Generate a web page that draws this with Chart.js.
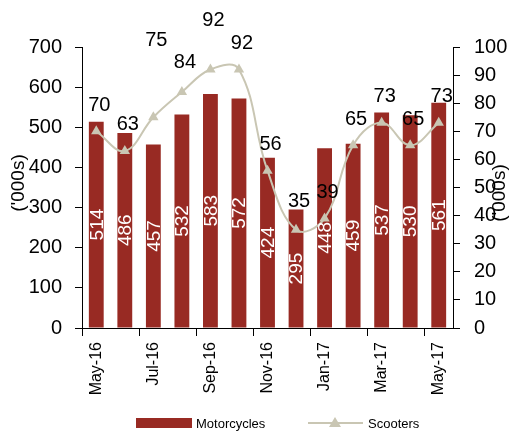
<!DOCTYPE html>
<html>
<head>
<meta charset="utf-8">
<script src="https://cdn.jsdelivr.net/npm/chart.js@4/dist/chart.umd.min.js"></script>
<style>
  body { margin: 0; background: #fff; }
  #wrap { width: 513px; height: 432px; }
</style>
</head>
<body>
<div id="wrap"><canvas id="chart" width="513" height="432"></canvas></div>
<script>
// monthly volumes, '000s
const months = ["May-16","Jun-16","Jul-16","Aug-16","Sep-16","Oct-16","Nov-16","Dec-16","Jan-17","Feb-17","Mar-17","Apr-17","May-17"];
const motorcycles = [514, 486, 457, 532, 583, 572, 424, 295, 448, 459, 537, 530, 561];
const scooters = [70, 63, 75, 84, 92, 92, 56, 35, 39, 65, 73, 65, 73];
const leftTicks = [0, 100, 200, 300, 400, 500, 600, 700];
const rightTicks = [0, 10, 20, 30, 40, 50, 60, 70, 80, 90, 100];

const FONT = '"Liberation Sans Narrow", "Arial Narrow", "Liberation Sans", sans-serif';
const RED = "#982a23";
const BEIGE = "#c9c6b3";

// extra lift for a couple of scooter labels so they clear the curve (as in the source)
const scooterLift = [26, 26, 77, 29, 49, 26, 26, 28, 26, 26, 26, 26, 26];

const labelsPlugin = {
  id: "valueLabels",
  afterDatasetsDraw(chart) {
    const ctx = chart.ctx;
    ctx.save();
    // motorcycle values inside bars, rotated
    const bars = chart.getDatasetMeta(0).data;
    ctx.fillStyle = "#fff";
    ctx.font = "19px " + FONT;
    ctx.textAlign = "center";
    ctx.textBaseline = "middle";
    bars.forEach((b, i) => {
      ctx.save();
      ctx.translate(b.x, (b.y + b.base) / 2);
      ctx.rotate(-Math.PI / 2);
      ctx.fillText(String(motorcycles[i]), 0, 1);
      ctx.restore();
    });
    // scooter values above points
    const pts = chart.getDatasetMeta(1).data;
    ctx.fillStyle = "#000";
    ctx.font = "20px " + FONT;
    pts.forEach((p, i) => {
      ctx.fillText(String(scooters[i]), p.x + 3, p.y - scooterLift[i]);
    });
    ctx.restore();
  },
  afterDraw(chart) {
    const ctx = chart.ctx;
    ctx.save();
    // axis titles, both read bottom to top
    ctx.fillStyle = "#000";
    ctx.font = "19px " + FONT;
    ctx.textAlign = "center";
    ctx.textBaseline = "middle";
    [[19, 183], [500, 193]].forEach(([x, y]) => {
      ctx.save();
      ctx.translate(x, y);
      ctx.rotate(-Math.PI / 2);
      ctx.fillText("('000s)", 0, 0);
      ctx.restore();
    });
    // legend
    ctx.fillStyle = RED;
    ctx.fillRect(136, 418, 56, 10);
    ctx.fillStyle = "#000";
    ctx.font = "13px " + FONT;
    ctx.textAlign = "left";
    ctx.fillText("Motorcycles", 196, 424);
    ctx.strokeStyle = BEIGE;
    ctx.lineWidth = 2;
    ctx.beginPath();
    ctx.moveTo(308, 423);
    ctx.lineTo(363, 423);
    ctx.stroke();
    ctx.fillStyle = BEIGE;
    ctx.beginPath();
    ctx.moveTo(335, 417);
    ctx.lineTo(341, 427);
    ctx.lineTo(329, 427);
    ctx.closePath();
    ctx.fill();
    ctx.fillStyle = "#000";
    ctx.fillText("Scooters", 368, 424);
    ctx.restore();
  }
};

new Chart(document.getElementById("chart"), {
  type: "bar",
  data: {
    labels: months,
    datasets: [{
      label: "Motorcycles",
      data: motorcycles,
      backgroundColor: RED,
      categoryPercentage: 1,
      barPercentage: 0.52,
      yAxisID: "y",
      order: 2
    }, {
      type: "line",
      label: "Scooters",
      data: scooters,
      borderColor: BEIGE,
      backgroundColor: BEIGE,
      borderWidth: 2,
      tension: 0.4,
      pointStyle: "triangle",
      pointRadius: 6,
      pointBorderWidth: 0,
      yAxisID: "y1",
      order: 1
    }]
  },
  options: {
    responsive: false,
    animation: false,
    layout: { padding: { top: 47, left: 0, right: 0, bottom: 0 } },
    plugins: {
      legend: { display: false },
      tooltip: { enabled: false }
    },
    scales: {
      x: {
        offset: true,
        afterFit: (s) => { s.height = 104; },
        grid: {
          offset: true,
          drawOnChartArea: false,
          tickLength: 8,
          color: (c) => (c.index % 2 === 0 ? "#000" : "rgba(0,0,0,0)")
        },
        border: { color: "#000", width: 1 },
        ticks: {
          autoSkip: false,
          minRotation: 90,
          maxRotation: 90,
          padding: 6,
          color: "#000",
          font: { family: FONT, size: 16 },
          callback: (v, i) => (i % 2 === 0 ? months[i] : "")
        }
      },
      y: {
        position: "left",
        min: 0,
        max: 700,
        afterFit: (s) => { s.width = 82; },
        afterBuildTicks: (s) => { s.ticks = leftTicks.map((v) => ({ value: v })); },
        grid: { drawOnChartArea: false, tickLength: 7, color: "#000" },
        border: { color: "#000", width: 1 },
        ticks: { color: "#000", padding: 13, font: { family: FONT, size: 20 } }
      },
      y1: {
        position: "right",
        min: 0,
        max: 100,
        afterFit: (s) => { s.width = 60; },
        afterBuildTicks: (s) => { s.ticks = rightTicks.map((v) => ({ value: v })); },
        grid: { drawOnChartArea: false, tickLength: 7, color: "#000" },
        border: { color: "#000", width: 1 },
        ticks: { color: "#000", padding: 14, font: { family: FONT, size: 20 } }
      }
    }
  },
  plugins: [labelsPlugin]
});
</script>
</body>
</html>
